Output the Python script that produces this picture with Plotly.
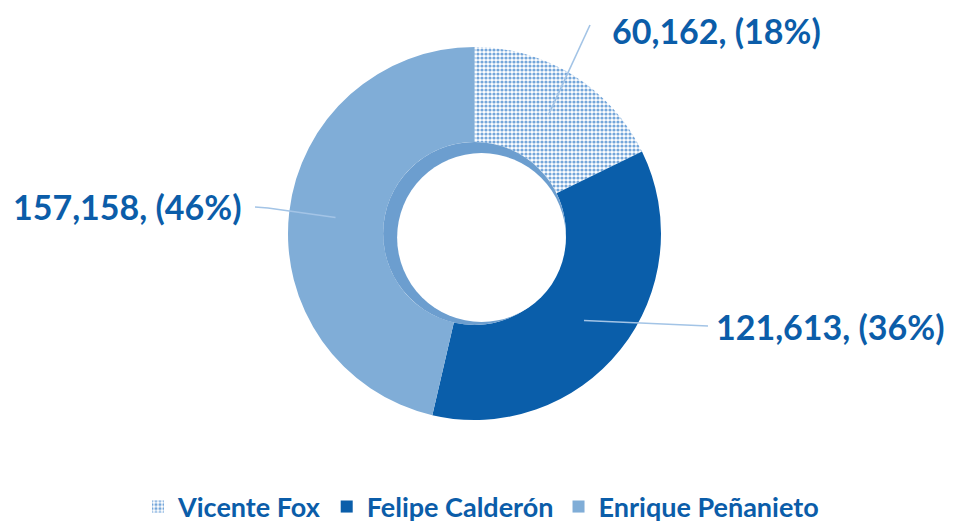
import math
import plotly.graph_objects as go

# ---- data ----
labels = ["Vicente Fox", "Felipe Calderón", "Enrique Peñanieto"]
values = [60162, 121613, 157158]

# ---- styling / layout constants ----
W, H = 948, 515          # figure size (page adds an 8px body margin)
OFF = 8                  # screen offset of the figure
CX, CY, R = 474.5, 233.5, 186.5      # pie centre and radius in screen pixels
HOLE = 0.49
TEXT = "#0B5DA9"
COL_FOX_FG = "#74A6DA"
COL_CAL = "#0A5EAA"
COL_PENA = "#80ADD7"
BEVEL = "#6C9ECF"
LINE = "#A3C4E6"
FONT = "Lato"

# leader-line end points and label placement (screen pixels)
label_ends = [(590, 25), (708, 326), (255, 207)]
label_bend = [None, None, (268, 208)]
label_anchor = ["left", "left", "right"]
label_gap = [20, 6, -12]
label_dy = [5, 0, 0]


def px(x):
    return (x - OFF) / W


def py(y):
    return 1 - (y - OFF) / H


total = sum(values)
fig = go.Figure()
fig.add_trace(go.Pie(
    labels=labels,
    values=values,
    hole=HOLE,
    sort=False,
    direction="clockwise",
    rotation=0,
    textinfo="none",
    hoverinfo="label+value+percent",
    marker=dict(
        colors=["white", COL_CAL, COL_PENA],
        line=dict(width=0),
        pattern=dict(shape=[".", "", ""], fgcolor=[COL_FOX_FG, COL_CAL, COL_PENA],
                     bgcolor=["#FFFFFF", COL_CAL, COL_PENA], size=4, solidity=0.5),
    ),
    domain=dict(x=[px(CX - R), px(CX + R)], y=[py(CY + R), py(CY - R)]),
    showlegend=True,
))

shapes = []
annotations = []
# inner bevel of the hole
hr = HOLE * R
shapes.append(dict(type="circle", xref="paper", yref="paper",
                   x0=px(CX - hr), x1=px(CX + hr), y0=py(CY + hr), y1=py(CY - hr),
                   fillcolor=BEVEL, line=dict(width=0), layer="above"))
wr, ox, oy = hr - 7, 7, 4
shapes.append(dict(type="circle", xref="paper", yref="paper",
                   x0=px(CX + ox - wr), x1=px(CX + ox + wr), y0=py(CY + oy + wr), y1=py(CY + oy - wr),
                   fillcolor="white", line=dict(width=0), layer="above"))

cum = 0.0
for i, v in enumerate(values):
    frac = v / total
    mid = (cum + frac / 2) * 2 * math.pi    # clockwise from top
    cum += frac
    ax = CX + 0.75 * R * math.sin(mid)
    ay = CY - 0.75 * R * math.cos(mid)
    ex, ey = label_ends[i]
    pts = [(ax, ay)]
    if label_bend[i]:
        pts.append(label_bend[i])
    pts.append((ex, ey))
    path = "M " + " L ".join(f"{px(x):.5f},{py(y):.5f}" for x, y in pts)
    shapes.append(dict(type="path", xref="paper", yref="paper", path=path,
                       line=dict(color=LINE, width=1.6), layer="above"))
    annotations.append(dict(
        xref="paper", yref="paper", x=px(ex + label_gap[i]), y=py(ey + label_dy[i]),
        xanchor=label_anchor[i], yanchor="middle", showarrow=False,
        text=f"<b>{v:,}, ({round(frac * 100)}%)</b>",
        font=dict(family=FONT, size=34, color=TEXT),
    ))

fig.update_layout(
    width=W, height=H,
    margin=dict(l=0, r=0, t=0, b=0, autoexpand=False),
    paper_bgcolor="white", plot_bgcolor="white",
    shapes=shapes, annotations=annotations,
    legend=dict(orientation="h", x=px(481), xanchor="center", y=py(507), yanchor="middle",
                font=dict(family=FONT, size=27, color=TEXT, weight="bold"),
                itemsizing="constant", traceorder="normal"),
)

fig.write_html("out.html")
